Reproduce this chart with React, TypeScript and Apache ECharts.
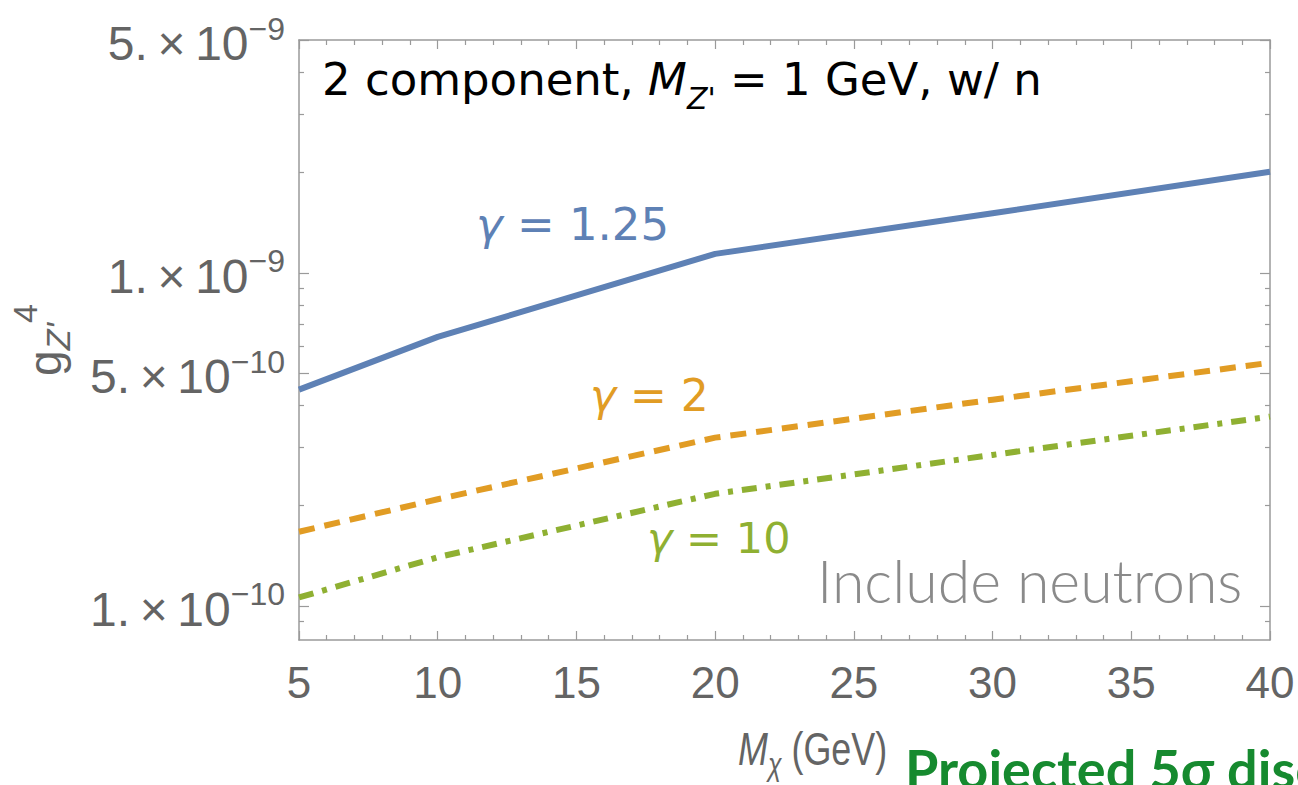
import React, { useEffect, useRef } from "react";
import * as echarts from "echarts";

// ---- data ----
const massGeV = [5, 10, 20, 30, 40];
const gamma125 = [4.46e-10, 6.42e-10, 1.14e-9, 1.51e-9, 2.01e-9];
const gamma2 = [1.67e-10, 2.09e-10, 3.2e-10, 4.16e-10, 5.37e-10];
const gamma10 = [1.06e-10, 1.4e-10, 2.17e-10, 2.84e-10, 3.7e-10];

const xMin = 5;
const xMax = 40;
const xStep = 5;
const yMin = 7.9e-11;
const yMax = 5e-9;
const yLabelTicks = [1e-10, 5e-10, 1e-9, 5e-9];
const yMinorTicks = [9e-11, 2e-10, 3e-10, 4e-10, 6e-10, 7e-10, 8e-10, 9e-10, 2e-9, 3e-9, 4e-9];

const F = "'Liberation Sans', Arial, Helvetica, sans-serif";
const FA = "'DejaVu Sans', 'Liberation Sans', sans-serif";
const GRAY = "#646464";
const FRAME = "#9a9a9a";
const BLUE = "#5E81B5";
const ORANGE = "#E19C24";
const GREEN = "#8FB032";

const L = (v: number) => Math.log10(v);

function yAxisBase(position: "left" | "right") {
  return {
    type: "value" as const,
    position,
    min: L(yMin),
    max: L(yMax),
    splitLine: { show: false },
    axisLine: { show: true, lineStyle: { color: FRAME, width: 1.5 } },
  };
}

function xAxisBase(position: "top" | "bottom") {
  return {
    type: "value" as const,
    position,
    min: xMin,
    max: xMax,
    interval: xStep,
    splitLine: { show: false },
    axisLine: { show: true, lineStyle: { color: FRAME, width: 1.5 } },
    axisTick: { show: true, inside: true, length: 9, lineStyle: { color: FRAME, width: 1.2 } },
    minorTick: { show: true, splitNumber: 5, length: 5, lineStyle: { color: FRAME, width: 1.2 } },
    minorSplitLine: { show: false },
  };
}

function gammaLabel(x: number, y: number, value: string, color: string, size: number) {
  return {
    type: "text",
    x,
    y,
    style: {
      text: `{i|γ}{n| = ${value}}`,
      align: "left",
      verticalAlign: "middle",
      rich: {
        n: { fontSize: size, fontFamily: FA, fill: color },
        i: { fontSize: size, fontFamily: FA, fill: color, fontStyle: "italic" },
      },
    },
  };
}

export default function App() {
  const ref = useRef<HTMLDivElement>(null);
  useEffect(() => {
    if (!ref.current) return;
    const chart = echarts.init(ref.current, undefined, { renderer: "svg" });
    const yLabelFormatter = (v: number) => {
      const e = Math.floor(v + 1e-9);
      const m = Math.round(Math.pow(10, v - e));
      return `{m|${m}.\u2009×\u200910}{s|−${-e}}`;
    };
    const mk = (ys: number[]) => massGeV.map((x, i) => [x, L(ys[i])]);
    const option: any = {
      animation: false,
      backgroundColor: "#ffffff",
      grid: { left: 299, right: 28, top: 40, bottom: 145, outerBoundsMode: "none", containLabel: false },
      xAxis: [
        {
          ...xAxisBase("bottom"),
          axisLabel: { show: true, fontSize: 44, color: GRAY, fontFamily: F, margin: 20 },
        },
        { ...xAxisBase("top"), axisLabel: { show: false } },
      ],
      yAxis: [
        {
          ...yAxisBase("left"),
          name: "{g|g}{z|Z'}{t|4}",
          nameLocation: "middle",
          nameRotate: 90,
          nameGap: 224,
          nameMoveOverlap: false,
          nameTextStyle: {
            rich: {
              g: { fontSize: 46, fontFamily: F, color: GRAY, padding: [14, 0, 0, 0], verticalAlign: "top" },
              z: { fontSize: 34, fontFamily: F, color: GRAY, fontStyle: "italic", padding: [33, 0, 0, 0], verticalAlign: "top" },
              t: { fontSize: 34, fontFamily: F, color: GRAY, verticalAlign: "top" },
            },
          },
          axisTick: {
            show: true,
            inside: true,
            length: 10,
            customValues: yLabelTicks.map(L),
            lineStyle: { color: FRAME, width: 1.2 },
          },
          axisLabel: {
            show: true,
            customValues: yLabelTicks.map(L),
            formatter: yLabelFormatter,
            margin: 14,
            rich: {
              m: { fontSize: 48, color: GRAY, fontFamily: F, padding: [7, 0, 0, 0], verticalAlign: "top" },
              s: { fontSize: 32, color: GRAY, fontFamily: F, verticalAlign: "top" },
            },
          },
        },
        {
          ...yAxisBase("left"),
          axisLine: { show: false },
          axisTick: {
            show: true,
            inside: true,
            length: 5,
            customValues: yMinorTicks.map(L),
            lineStyle: { color: FRAME, width: 1.2 },
          },
          axisLabel: { show: false },
        },
        {
          ...yAxisBase("right"),
          axisTick: {
            show: true,
            inside: true,
            length: 10,
            customValues: yLabelTicks.map(L),
            lineStyle: { color: FRAME, width: 1.2 },
          },
          axisLabel: { show: false },
        },
        {
          ...yAxisBase("right"),
          axisLine: { show: false },
          axisTick: {
            show: true,
            inside: true,
            length: 5,
            customValues: yMinorTicks.map(L),
            lineStyle: { color: FRAME, width: 1.2 },
          },
          axisLabel: { show: false },
        },
      ],
      series: [
        {
          name: "γ = 1.25",
          type: "line",
          xAxisIndex: 0,
          yAxisIndex: 0,
          data: mk(gamma125),
          showSymbol: false,
          symbol: "none",
          lineStyle: { color: BLUE, width: 6, type: "solid", join: "round" },
        },
        {
          name: "γ = 2",
          type: "line",
          xAxisIndex: 0,
          yAxisIndex: 0,
          data: mk(gamma2),
          showSymbol: false,
          symbol: "none",
          lineStyle: { color: ORANGE, width: 6, type: [16, 10], cap: "butt" },
        },
        {
          name: "γ = 10",
          type: "line",
          xAxisIndex: 0,
          yAxisIndex: 0,
          data: mk(gamma10),
          showSymbol: false,
          symbol: "none",
          lineStyle: { color: GREEN, width: 6, type: [15, 9, 5, 9], cap: "butt" },
        },
      ],
      graphic: [
        {
          type: "text",
          x: 322,
          y: 56.5,
          style: {
            text: "{n|2 component, }{i|M}{s|Z'}{n| = 1 GeV, w/ n}",
            align: "left",
            verticalAlign: "top",
            rich: {
              n: { fontSize: 45, fontFamily: FA, fill: "#000", verticalAlign: "top" },
              i: { fontSize: 45, fontFamily: FA, fill: "#000", fontStyle: "italic", verticalAlign: "top" },
              s: { fontSize: 30, fontFamily: FA, fill: "#000", fontStyle: "italic", padding: [27, 0, 0, 0], verticalAlign: "top" },
            },
          },
        },
        gammaLabel(476, 224, "1.25", BLUE, 45),
        gammaLabel(590, 395, "2", ORANGE, 44),
        gammaLabel(647, 538, "10", GREEN, 43),
        {
          type: "text",
          x: 817,
          y: 580,
          style: {
            text: "Include neutrons",
            fontSize: 59,
            fontFamily: "Lato, 'Open Sans', sans-serif",
            fontWeight: 300,
            fill: "#8a8a8a",
            align: "left",
            verticalAlign: "middle",
          },
        },
        {
          type: "text",
          x: 738,
          y: 726,
          scaleX: 0.78,
          style: {
            text: "{i|M}{c|χ}{n| (GeV)}",
            align: "left",
            verticalAlign: "top",
            rich: {
              i: { fontSize: 46, fontFamily: F, fill: GRAY, fontStyle: "italic", verticalAlign: "top" },
              c: { fontSize: 32, fontFamily: F, fill: GRAY, fontStyle: "italic", padding: [22, 0, 0, 0], verticalAlign: "top" },
              n: { fontSize: 46, fontFamily: F, fill: GRAY, verticalAlign: "top" },
            },
          },
        },
        {
          type: "text",
          x: 905,
          y: 768,
          style: {
            text: "Projected 5σ discovery",
            fontSize: 54,
            fontFamily: "Lato, 'Open Sans', sans-serif",
            fontWeight: 700,
            fill: "#168A2F",
            align: "left",
            verticalAlign: "middle",
          },
        },
      ],
    };
    chart.setOption(option);
    return () => chart.dispose();
  }, []);
  return (
    <div
      ref={ref}
      style={{ position: "absolute", left: 0, top: 0, width: 1298, height: 785, background: "#fff" }}
    />
  );
}
